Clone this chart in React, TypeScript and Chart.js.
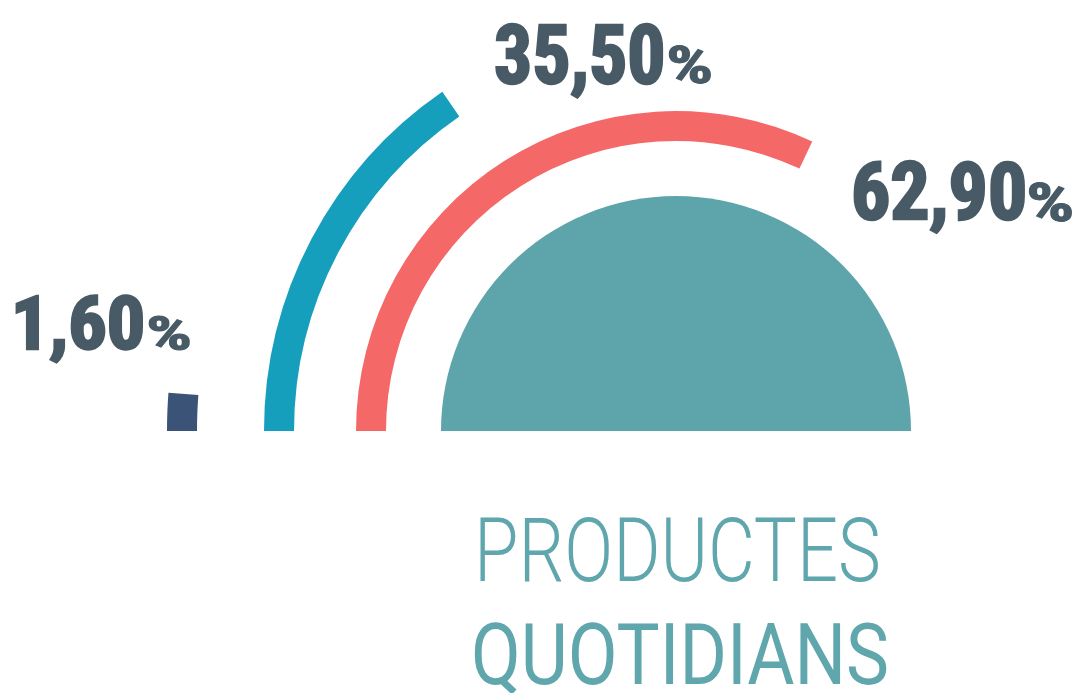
import React, { useEffect, useRef } from "react";
import { Chart, registerables } from "chart.js";

Chart.register(...registerables);

// ---- data ----
const categories = ["Segment 1", "Segment 2", "Segment 3"];
const percentValues = [1.6, 35.5, 62.9]; // printed values
const arcSweepValues = [2.4, 30.8, 64.0]; // sweep of each ring as drawn (% of half circle)
const ringColors = ["#3b5377", "#169ebd", "#f56868"];
const centerLabel = "Productes quotidians";
const centerValue = [100];
const centerColor = "#5ea4ab";
const titleLines = ["PRODUCTES", "QUOTIDIANS"];

const fmt = (v: number) => v.toFixed(2).replace(".", ",");

const NUM_FONT = '"Roboto Condensed", Roboto, sans-serif';
const TITLE_FONT = 'Roboto, sans-serif';
const LABEL_COLOR = "#475a65";
const TITLE_COLOR = "#5fa6ad";

let measureCtx: CanvasRenderingContext2D | null = null;
function getCtx() {
  if (!measureCtx) measureCtx = document.createElement("canvas").getContext("2d");
  return measureCtx!;
}

function FitText(props: {
  text: string;
  box: [number, number, number, number];
  weight: number;
  family: string;
  color: string;
  stroke?: number;
}) {
  const { text, box, weight, family, color } = props;
  const stroke = props.stroke || 0;
  const [l, t, r, b] = box;
  const ctx = getCtx();
  ctx.font = `${weight} 100px ${family}`;
  const m = ctx.measureText(text);
  const s2 = stroke / 2;
  const k = (b - t - stroke) / m.actualBoundingBoxAscent;
  const size = 100 * k;
  const inkW = (m.actualBoundingBoxLeft + m.actualBoundingBoxRight) * k;
  const sx = (r - l) / (inkW + stroke);
  const asc = m.fontBoundingBoxAscent * k;
  const desc = m.fontBoundingBoxDescent * k;
  const left = l + sx * (m.actualBoundingBoxLeft * k + s2);
  const top = b - s2 - asc;
  return (
    <div
      style={{
        position: "absolute",
        left,
        top,
        whiteSpace: "nowrap",
        fontFamily: family,
        fontWeight: weight,
        fontSize: size,
        lineHeight: `${asc + desc}px`,
        color,
        transform: `scaleX(${sx})`,
        transformOrigin: "0 0",
        WebkitTextStroke: stroke ? `${stroke}px ${color}` : undefined,
      }}
    >
      {text}
    </div>
  );
}

function Gauge() {
  const ref = useRef<HTMLCanvasElement>(null);
  useEffect(() => {
    const T = "rgba(0,0,0,0)";
    const ring = (i: number) => ({
      label: categories[i],
      data: [arcSweepValues[i], 100 - arcSweepValues[i]],
      backgroundColor: [ringColors[i], T],
      weight: 30,
    });
    const spacer = (w: number) => ({ label: "", data: [100], backgroundColor: [T], weight: w });
    const chart = new Chart(ref.current!, {
      type: "doughnut",
      data: {
        labels: ["valor", "resta"],
        datasets: [
          ring(0),
          spacer(67),
          ring(1),
          spacer(62),
          ring(2),
          spacer(55),
          { label: centerLabel, data: centerValue, backgroundColor: [centerColor], weight: 235 },
        ] as any,
      },
      options: {
        animation: false,
        responsive: false,
        events: [],
        circumference: 180,
        rotation: -90,
        cutout: 0,
        layout: { padding: 0 },
        elements: { arc: { borderWidth: 0 } },
        plugins: { legend: { display: false }, tooltip: { enabled: false } },
      } as any,
    });
    return () => chart.destroy();
  }, []);
  return (
    <canvas
      ref={ref}
      width={1018}
      height={509}
      style={{ position: "absolute", left: 167, top: -78, width: 1018, height: 509 }}
    />
  );
}

export default function App() {
  const numBoxes: [number, number, number, number][] = [
    [15, 295, 143, 351],
    [495, 23, 663, 85],
    [853, 161, 1025, 222],
  ];
  const pctBoxes: [number, number, number, number][] = [
    [148, 315, 190, 351],
    [668, 46, 711, 85],
    [1028, 182, 1072, 222],
  ];
  return (
    <div
      style={{
        position: "fixed",
        left: 0,
        top: 0,
        width: 1080,
        height: 693,
        overflow: "hidden",
        background: "#ffffff",
      }}
    >
      <Gauge />
      {percentValues.map((v, i) => (
        <React.Fragment key={i}>
          <FitText text={fmt(v)} box={numBoxes[i]} weight={700} family={NUM_FONT} color={LABEL_COLOR} stroke={2.5} />
          <FitText text="%" box={pctBoxes[i]} weight={700} family={NUM_FONT} color={LABEL_COLOR} stroke={1} />
        </React.Fragment>
      ))}
      <FitText text={titleLines[0]} box={[480, 517, 878, 582]} weight={300} family={TITLE_FONT} color={TITLE_COLOR} />
      <FitText text={titleLines[1]} box={[475, 623, 887, 685]} weight={400} family={TITLE_FONT} color={TITLE_COLOR} />
    </div>
  );
}
